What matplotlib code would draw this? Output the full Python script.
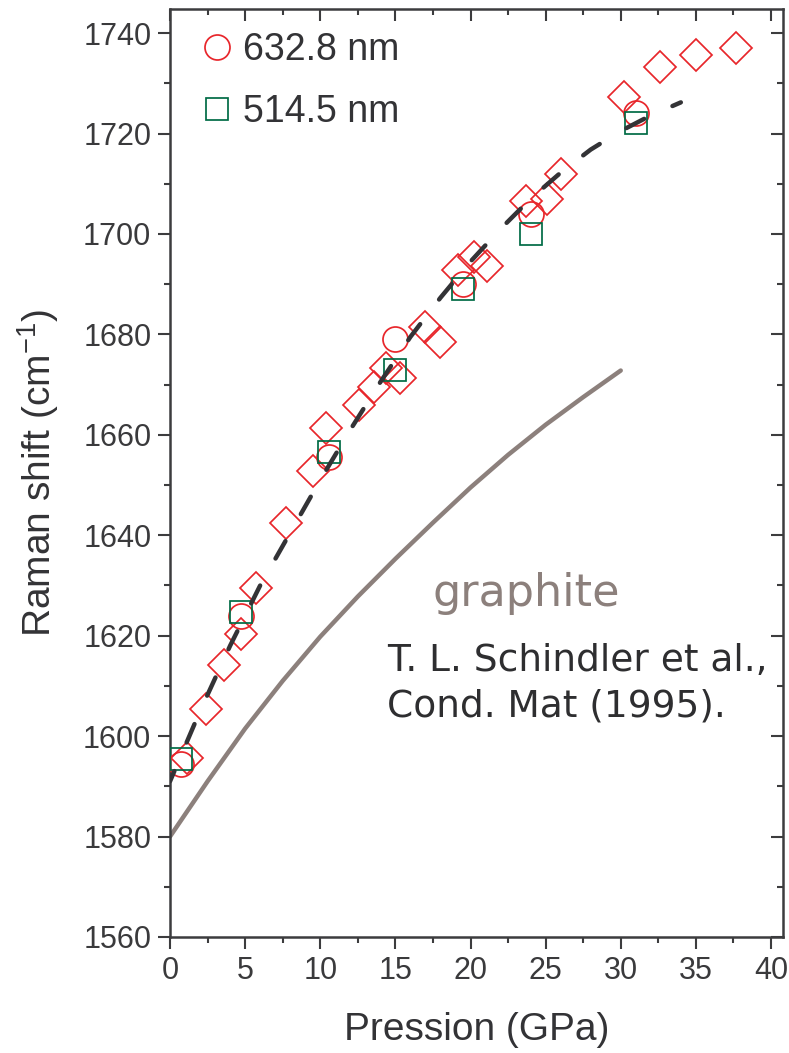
import numpy as np
import matplotlib
matplotlib.use('Agg')
import matplotlib.pyplot as plt
from matplotlib.ticker import MultipleLocator

# données
p_632 = [0.7, 4.7, 10.6, 15.0, 19.5, 24.0, 31.0]
w_632 = [1594.5, 1624.0, 1655.5, 1679.0, 1690.0, 1704.0, 1724.0]

p_514 = [0.7, 4.7, 10.6, 15.0, 19.5, 24.0, 31.0]
w_514 = [1595.5, 1624.7, 1656.6, 1673.0, 1689.0, 1700.0, 1722.0]

p_dia = [1.1, 2.4, 3.6, 4.7, 5.7, 7.7, 9.5, 10.4, 12.6, 13.6, 14.4, 15.3,
         17.0, 18.0, 19.2, 20.2, 21.1, 23.7, 25.1, 26.0, 30.2, 32.6, 35.0, 37.7]
w_dia = [1595.7, 1605.4, 1614.1, 1620.3, 1629.4, 1642.4, 1652.8, 1661.4, 1666.0,
         1669.6, 1673.3, 1671.4, 1681.4, 1678.4, 1692.8, 1695.4, 1693.7, 1706.5,
         1707.0, 1712.0, 1727.3, 1733.3, 1735.6, 1737.0]

# ajustement (tirets)
p_fit = [0, 2, 4, 6, 8, 10, 12, 14, 16, 18, 20, 22, 24, 26, 28, 30, 32, 34]
w_fit = [1591.0, 1605.0, 1618.0, 1630.0, 1640.5, 1651.0, 1661.0, 1670.5, 1679.5,
         1687.3, 1694.5, 1701.0, 1707.0, 1712.2, 1716.8, 1720.5, 1723.6, 1726.2]

# graphite (Schindler et al.)
p_gr = [0, 2.5, 5, 7.5, 10, 12.5, 15, 17.5, 20, 22.5, 25, 27.5, 30]
w_gr = [1580.0, 1591.0, 1601.5, 1611.0, 1619.8, 1627.8, 1635.3, 1642.5,
        1649.5, 1656.0, 1662.0, 1667.5, 1672.8]

red = '#e8262b'
green = '#006b45'
dark = '#333336'
grey = '#8c807c'

plt.rcParams['font.family'] = ['Liberation Sans', 'DejaVu Sans']
plt.rcParams['mathtext.default'] = 'regular'

fig = plt.figure(figsize=(7.89, 10.53), dpi=100)
ax = fig.add_axes([0.2155, 0.1102, 0.7769, 0.8808])

ax.plot(p_gr, w_gr, color=grey, lw=3.2, solid_capstyle='round',
        solid_joinstyle='round', zorder=2)
ax.plot(p_dia, w_dia, ls='none', marker='D', ms=15.8, mfc='none', mec=red, mew=1.25, zorder=3)
ax.plot(p_632, w_632, ls='none', marker='o', ms=18, mfc='none', mec=red, mew=1.25,
        zorder=3, label='632.8 nm')
ax.plot(p_514, w_514, ls='none', marker='s', ms=16.5, mfc='none', mec=green, mew=1.25,
        zorder=3, label='514.5 nm')
ax.plot(p_fit, w_fit, color=dark, lw=3.2, ls=(2.0, (4.5, 7)), dash_capstyle='round', zorder=4)

ax.set_xlim(0, 40.8)
ax.set_ylim(1560, 1744.7)
ax.xaxis.set_major_locator(MultipleLocator(5))
ax.xaxis.set_minor_locator(MultipleLocator(2.5))
ax.yaxis.set_major_locator(MultipleLocator(20))
ax.yaxis.set_minor_locator(MultipleLocator(10))

for s in ax.spines.values():
    s.set_linewidth(1.8)
    s.set_color('#3c3c3e')

ax.tick_params(which='both', direction='out', width=1.5, color='#3c3c3e',
               labelsize=22, labelcolor='#3a3a3c', pad=5)
ax.tick_params(which='major', length=8.5)
ax.tick_params(which='minor', length=4.5)

# ticks internes en haut et à droite
ax2 = ax.secondary_xaxis('top')
ax2.xaxis.set_major_locator(MultipleLocator(5))
ax2.xaxis.set_minor_locator(MultipleLocator(2.5))
ax2.tick_params(which='both', direction='in', width=1.5, color='#3c3c3e', labeltop=False)
ax2.tick_params(which='major', length=8.5)
ax2.tick_params(which='minor', length=4.5)
ax3 = ax.secondary_yaxis('right')
ax3.yaxis.set_major_locator(MultipleLocator(20))
ax3.yaxis.set_minor_locator(MultipleLocator(10))
ax3.tick_params(which='both', direction='in', width=1.5, color='#3c3c3e', labelright=False)
ax3.tick_params(which='major', length=8.5)
ax3.tick_params(which='minor', length=4.5)
for a in (ax2, ax3):
    for s in a.spines.values():
        s.set_visible(False)

ax.set_xlabel('Pression (GPa)', fontsize=28, color='#333336', labelpad=19)
ax.set_ylabel('Raman shift (cm$^{-1}$)', fontsize=28, color='#333336', labelpad=16)

leg = ax.legend(loc='upper left', bbox_to_anchor=(0.0457, 0.9756), frameon=False,
                fontsize=27, handlelength=1.0, handletextpad=0.2, borderaxespad=0,
                borderpad=0, labelspacing=0.70, labelcolor='#333336')

ax.text(17.5, 1625.9, 'graphite', fontsize=32, color=grey, family='DejaVu Sans',
        ha='left', va='baseline')
ax.text(14.47, 1612.9, 'T. L. Schindler et al.,', fontsize=27, color='#2e2e30',
        family='DejaVu Sans', ha='left', va='baseline')
ax.text(14.47, 1603.9, 'Cond. Mat (1995).', fontsize=27, color='#2e2e30',
        family='DejaVu Sans', ha='left', va='baseline')

fig.savefig('out.png', dpi=100)
